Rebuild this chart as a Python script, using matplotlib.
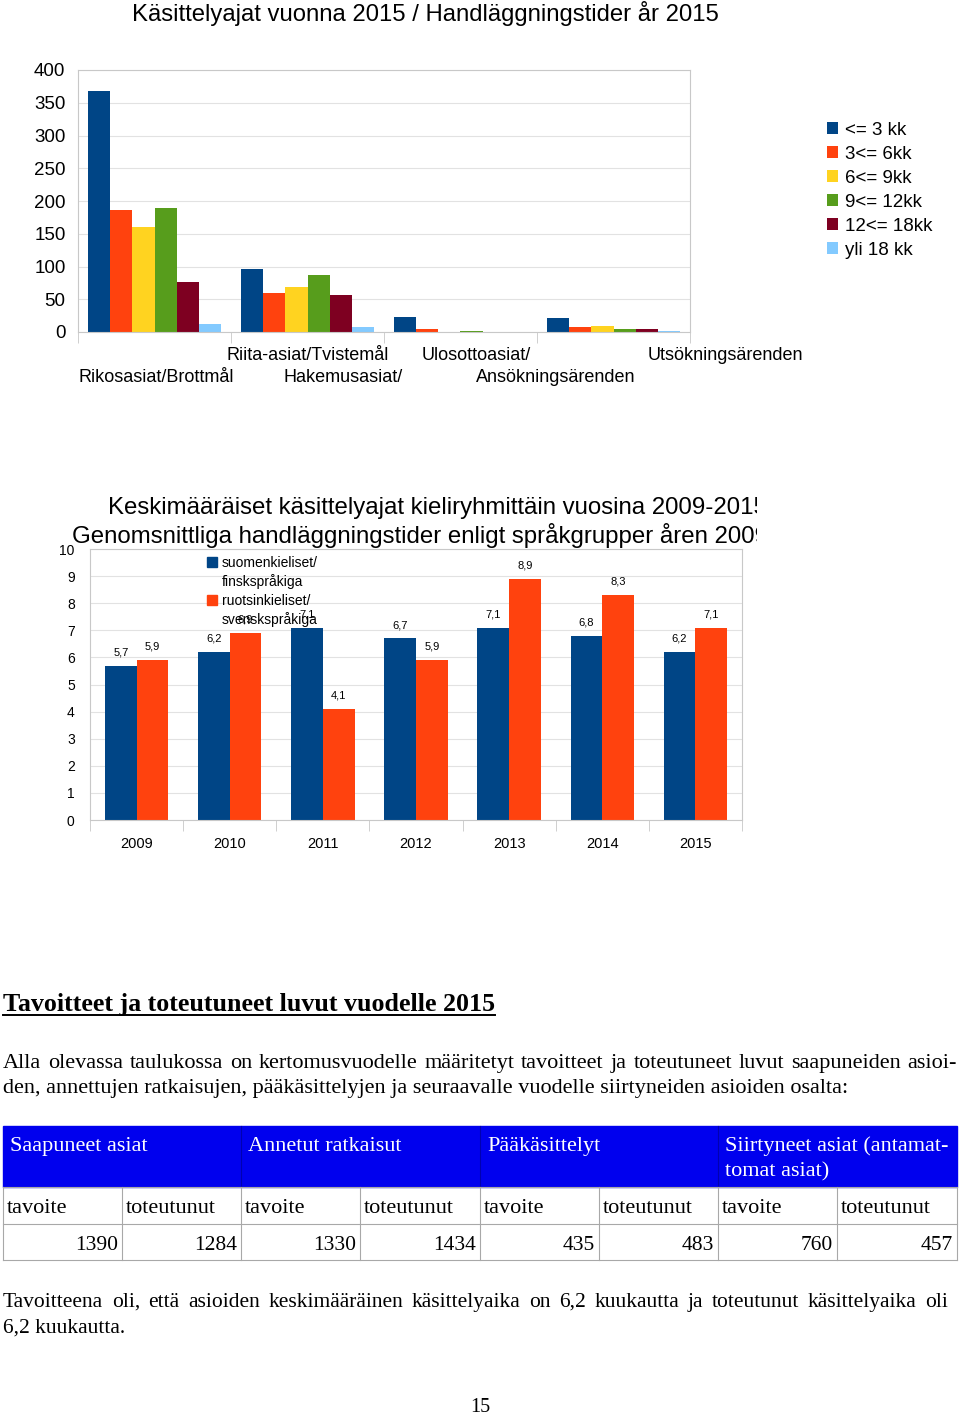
import matplotlib
matplotlib.use('Agg')
import matplotlib.pyplot as plt
from matplotlib.patches import Rectangle
import numpy as np

SANS = ['Liberation Sans', 'DejaVu Sans']
SERIF = ['Liberation Serif', 'DejaVu Serif']
plt.rcParams['font.family'] = SANS

# --- chart 1: handling times 2015 by case type ---
categories = ['Rikosasiat/Brottmål', 'Riita-asiat/Tvistemål',
              'Hakemusasiat/ Ansökningsärenden', 'Ulosottoasiat/ Utsökningsärenden']
durations = ['<= 3 kk', '3<= 6kk', '6<= 9kk', '9<= 12kk', '12<= 18kk', 'yli 18 kk']
upto_3 = [368, 96, 23, 21]
from_3_6 = [186, 60, 4, 7]
from_6_9 = [161, 68, 0, 9]
from_9_12 = [189, 87, 2, 4]
from_12_18 = [76, 56, 0, 5]
over_18 = [12, 8, 0, 1]
colors1 = ['#004586', '#ff420e', '#ffd320', '#579d1c', '#7e0021', '#83caff']

# --- chart 2: average handling times by language group ---
years = ['2009', '2010', '2011', '2012', '2013', '2014', '2015']
finnish = [5.7, 6.2, 7.1, 6.7, 7.1, 6.8, 6.2]
swedish = [5.9, 6.9, 4.1, 5.9, 8.9, 8.3, 7.1]
lang_labels = ['suomenkieliset/\nfinskspråkiga', 'ruotsinkieliset/\nsvenskspråkiga']

# --- table ---
table_groups = ['Saapuneet asiat', 'Annetut ratkaisut', 'Pääkäsittelyt',
                'Siirtyneet asiat (antamat-\ntomat asiat)']
targets = [1390, 1330, 435, 760]
actuals = [1284, 1434, 483, 457]

W, H = 960, 1416
fig = plt.figure(figsize=(W / 100, H / 100), dpi=100)
renderer = fig.canvas.get_renderer()

# page layer in pixel coordinates
page = fig.add_axes([0, 0, 1, 1])
page.set_xlim(0, W)
page.set_ylim(H, 0)
page.axis('off')


def fig_rect(x0, y0, x1, y1):
    return [x0 / W, 1 - y1 / H, (x1 - x0) / W, (y1 - y0) / H]


def style_axes(ax, ngroups):
    ax.set_facecolor('none')
    for s in ax.spines.values():
        s.set_color('#c8c8c8')
    ax.yaxis.grid(True, color='#e2e2e2', lw=0.8)
    ax.set_axisbelow(True)
    ax.set_xlim(-0.5, ngroups - 0.5)
    ax.set_xticks(np.arange(ngroups))
    ax.set_xticks(np.arange(ngroups + 1) - 0.5, minor=True)
    ax.tick_params(axis='x', which='major', length=0)
    ax.tick_params(axis='x', which='minor', length=8, color='#c8c8c8')
    ax.tick_params(axis='y', length=0)


# ---------------- chart 1 ----------------
page.text(425, 13, 'Käsittelyajat vuonna 2015 / Handläggningstider år 2015',
          fontsize=17.2, ha='center', va='center')

ax1 = fig.add_axes(fig_rect(78, 70, 690, 332))
series1 = [upto_3, from_3_6, from_6_9, from_9_12, from_12_18, over_18]
x = np.arange(len(categories))
w = 0.145
for i, vals in enumerate(series1):
    ax1.bar(x + (i - 2.5) * w, vals, w, color=colors1[i], label=durations[i])
ax1.set_ylim(0, 400)
ax1.set_yticks(range(0, 401, 50))
style_axes(ax1, len(categories))
ax1.set_xticklabels([])
ax1.tick_params(axis='y', labelsize=13.5, pad=9)
ax1.legend(loc='upper left', bbox_to_anchor=(827 / W, 1 - 122 / H),
           bbox_transform=fig.transFigure, frameon=False, fontsize=13.5,
           handlelength=0.6, handleheight=0.6, handletextpad=0.35,
           labelspacing=0.37, borderaxespad=0, borderpad=0)

# staggered category labels, split at "/ "
label_parts = []
for c in categories:
    parts = c.split('/ ')
    label_parts += [p + '/' for p in parts[:-1]] + [parts[-1]]
label_pos = [(156, 377), (308, 356), (343, 377), (556, 377), (476, 356), (725, 356)]
for txt, (lx, ly) in zip(label_parts, label_pos):
    page.text(lx, ly, txt, fontsize=13, ha='center', va='center')

# ---------------- chart 2 ----------------
tax = fig.add_axes(fig_rect(0, 488, 757, 550))
tax.axis('off')
tax.set_xlim(0, 757)
tax.set_ylim(62, 0)
tax.text(108, 20, 'Keskimääräiset käsittelyajat kieliryhmittäin vuosina 2009-2015',
         fontsize=17.3, va='center', clip_on=True)
tax.text(72, 48, 'Genomsnittliga handläggningstider enligt språkgrupper åren 2009-2015',
         fontsize=17.3, va='center', clip_on=True)

ax2 = fig.add_axes(fig_rect(90, 549, 742, 820))
x2 = np.arange(len(years))
w2 = 0.34
b1 = ax2.bar(x2 - w2 / 2, finnish, w2, color='#004586')
b2 = ax2.bar(x2 + w2 / 2, swedish, w2, color='#ff420e')
ax2.set_ylim(0, 10)
ax2.set_yticks(range(0, 11))
style_axes(ax2, len(years))
ax2.set_xticklabels(years)
ax2.tick_params(axis='y', labelsize=10, pad=11)
ax2.tick_params(axis='x', which='major', labelsize=10.5, pad=12)
for bars, vals in [(b1, finnish), (b2, swedish)]:
    for r, v in zip(bars, vals):
        ax2.annotate(f'{v:.1f}'.replace('.', ','), (r.get_x() + r.get_width() / 2, v),
                     xytext=(0, 6), textcoords='offset points',
                     ha='center', va='bottom', fontsize=8)

# legend inside chart 2 (square aligned with first text line)
for k, (col, lab) in enumerate(zip(['#004586', '#ff420e'], lang_labels)):
    y0 = 557 + k * 38
    fig.add_artist(Rectangle((207 / W, 1 - (y0 + 10) / H), 10 / W, 10 / H,
                             color=col, transform=fig.transFigure, zorder=5))
    fig.text(222 / W, 1 - (y0 - 1) / H, lab, fontsize=10, va='top',
             linespacing=1.35, zorder=6)

# ---------------- text section ----------------
head = page.text(3, 1011, 'Tavoitteet ja toteutuneet luvut vuodelle 2015',
                 fontsize=18.7, fontweight='bold', family=SERIF, va='baseline')
hw = head.get_window_extent(renderer).width
page.plot([3, 3 + hw], [1015, 1015], color='black', lw=1.4)


def justify(line, y, x0, x1, **kw):
    words = line.split()
    texts = [page.text(0, y, wd, va='baseline', **kw) for wd in words]
    widths = [t.get_window_extent(renderer).width for t in texts]
    gap = (x1 - x0 - sum(widths)) / (len(words) - 1)
    xx = x0
    for t, wd in zip(texts, widths):
        t.set_x(xx)
        xx += wd + gap


justify('Alla olevassa taulukossa on kertomusvuodelle määritetyt tavoitteet ja '
        'toteutuneet luvut saapuneiden asioi-', 1068, 3, 957,
        fontsize=16, family=SERIF)
page.text(3, 1093, 'den, annettujen ratkaisujen, pääkäsittelyjen ja seuraavalle vuodelle '
          'siirtyneiden asioiden osalta:', fontsize=16, family=SERIF, va='baseline')

# table
cols = [3, 122, 241, 360, 480, 599, 718, 837, 957]
page.add_patch(Rectangle((3, 1126), 954, 61, color='#0000ee', zorder=1))
for cx in cols[2:-1:2]:
    page.plot([cx, cx], [1126, 1187], color='#0000b0', lw=0.8, zorder=2)
for g, name in enumerate(table_groups):
    for k, line in enumerate(name.split('\n')):
        page.text(cols[2 * g] + 7, 1151 + k * 25, line, color='white',
                  fontsize=16, family=SERIF, va='baseline', zorder=3)
for cx in cols:
    page.plot([cx, cx], [1187, 1260], color='#a8a8a8', lw=0.8)
for ry in [1187, 1224, 1260]:
    page.plot([3, 957], [ry, ry], color='#a8a8a8', lw=0.8)
for g in range(len(table_groups)):
    page.text(cols[2 * g] + 4, 1213, 'tavoite', fontsize=16, family=SERIF, va='baseline')
    page.text(cols[2 * g + 1] + 4, 1213, 'toteutunut', fontsize=16, family=SERIF,
              va='baseline')
    page.text(cols[2 * g + 1] - 4, 1250, str(targets[g]), fontsize=15.5, family=SERIF,
              va='baseline', ha='right')
    page.text(cols[2 * g + 2] - 4, 1250, str(actuals[g]), fontsize=15.5, family=SERIF,
              va='baseline', ha='right')

justify('Tavoitteena oli, että asioiden keskimääräinen käsittelyaika on 6,2 kuukautta '
        'ja toteutunut käsittelyaika oli', 1307, 3, 948, fontsize=15.5, family=SERIF)
page.text(3, 1333, '6,2 kuukautta.', fontsize=15.5, family=SERIF, va='baseline')
page.text(480, 1412, '15', fontsize=14.5, family=SERIF, ha='center', va='baseline')

fig.savefig('out.png', dpi=100)
